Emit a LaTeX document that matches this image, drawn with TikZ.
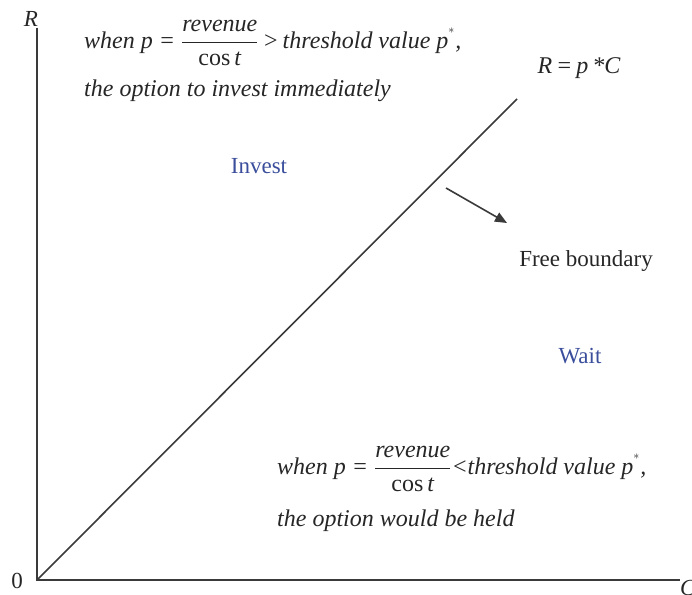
\documentclass[tikz,border=0pt]{standalone}
\usepackage{fontspec}
\usepackage{amsmath}
\setmainfont{Liberation Serif}
\usetikzlibrary{arrows.meta}
\definecolor{axisgray}{HTML}{3A3A3A}
\definecolor{regblue}{HTML}{3A4E9C}
\definecolor{txt}{HTML}{262626}
\begin{document}
\begin{tikzpicture}[x=1pt,y=-1pt,
  axis/.style={draw=axisgray,line width=2pt},
  lbl/.style={inner sep=0pt,text=txt,font=\fontsize{23}{27}\selectfont},
  region/.style={lbl,text=regblue},
  cond/.style={inner sep=0pt,anchor=west,text=txt,font=\fontsize{24}{29}\selectfont\itshape}]
\useasboundingbox (0,0) rectangle (692,594);
\coordinate (O) at (37,580);
\coordinate (Ytop) at (37,28);
\coordinate (Xend) at (680,580);
\coordinate (Lend) at (517,99);
\coordinate (A1) at (446,188);
\coordinate (A2) at (507,223);
\draw[axis] (Ytop) -- (O) -- (Xend);
\draw[draw=axisgray,line width=1.6pt] (O) -- (Lend);
\draw[draw=axisgray,line width=1.6pt,-{Triangle[length=12pt,width=10pt]}] (A1) -- (A2);
\node[lbl,font=\fontsize{23}{27}\selectfont\itshape] (R) at (31,19) {R};
\node[lbl] (zero) at (17,581) {0};
\node[lbl,font=\fontsize{23}{27}\selectfont\itshape,anchor=west] (C) at (680,588) {C};
\node[lbl,font=\fontsize{24}{28}\selectfont\itshape] (eq) at (579,68) {R\,=\,p\,*C};
\node[region] (inv) at (259,166) {Invest};
\node[region] (wait) at (580,356) {Wait};
\node[lbl] (fb) at (586,261) {Free boundary};
\node[cond] (top1) at (84,43) {when p = $\dfrac{\text{\itshape revenue}}{\text{\upshape cos\,\itshape t}}$\,>\,threshold value p$^{^{*}}$,};
\node[cond] (top2) at (84,91) {the option to invest immediately};
\node[cond] (bot1) at (277,469) {when p = $\dfrac{\text{\itshape revenue}}{\text{\upshape cos\,\itshape t}}$<threshold value p$^{^{*}}$,};
\node[cond] (bot2) at (277,521) {the option would be held};
\end{tikzpicture}
\end{document}
